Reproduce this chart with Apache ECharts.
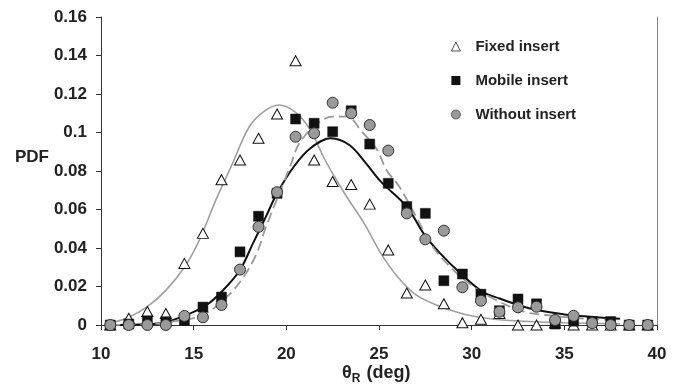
<!DOCTYPE html>
<html>
<head>
<meta charset="utf-8">
<script src="https://cdn.jsdelivr.net/npm/echarts@6/dist/echarts.min.js"></script>
<style>html,body{margin:0;padding:0;background:#fff;overflow:hidden}#c{width:690px;height:386px}</style>
</head>
<body>
<div id="c"></div>
<script>
// Bin centres (deg)
const xBins = [10.5, 11.5, 12.5, 13.5, 14.5, 15.5, 16.5, 17.5, 18.5, 19.5, 20.5, 21.5, 22.5, 23.5, 24.5, 25.5, 26.5, 27.5, 28.5, 29.5, 30.5, 31.5, 32.5, 33.5, 34.5, 35.5, 36.5, 37.5, 38.5, 39.5];
// Measured PDFs
const fixedPdf   = [0, 0.0035, 0.007, 0.006, 0.032, 0.0476, 0.0755, 0.0857, 0.097, 0.1096, 0.1373, 0.0857, 0.0745, 0.073, 0.0628, 0.039, 0.0166, 0.0208, 0.011, 0.0012, 0.003, 0.006, 0, 0, 0.001, 0, 0, 0, 0, 0];
const mobilePdf  = [0, 0.0005, 0.0022, 0.0017, 0.0024, 0.0093, 0.0145, 0.038, 0.0565, 0.0684, 0.107, 0.1048, 0.1004, 0.1113, 0.094, 0.0736, 0.0615, 0.058, 0.023, 0.0265, 0.016, 0.0074, 0.0135, 0.011, 0.0005, 0.002, 0.0017, 0.0018, 0, 0];
const withoutPdf = [0, 0, 0, 0, 0.0047, 0.004, 0.0104, 0.0288, 0.051, 0.069, 0.0978, 0.0996, 0.1155, 0.110, 0.1039, 0.0906, 0.058, 0.0445, 0.049, 0.0196, 0.0126, 0.0069, 0.0092, 0.0095, 0.0026, 0.0048, 0.001, 0, 0, 0];
// Fitted curves
const fixedFitX = [10.5, 11.5, 12.5, 13.5, 14.5, 15.3, 16.2, 17.1, 18.0, 18.8, 19.6, 20.5, 21.3, 22.0, 22.6, 23.3, 24.2, 25.1, 26.0, 27.0, 28.1, 29.4, 30.8, 32.3, 35.0, 38.0];
const fixedFitY = [0.0009, 0.004, 0.0095, 0.018, 0.030, 0.044, 0.065, 0.084, 0.103, 0.111, 0.1143, 0.1105, 0.1013, 0.0874, 0.077, 0.066, 0.0528, 0.0372, 0.0251, 0.0156, 0.0104, 0.0061, 0.0035, 0.0022, 0.0012, 0.0006];
const mobileFitX = [10.5, 12.0, 13.2, 14.6, 15.7, 16.6, 17.5, 18.2, 18.9, 19.5, 20.4, 21.3, 22.4, 23.4, 24.3, 25.1, 26.5, 27.4, 28.3, 29.4, 30.6, 31.5, 33.1, 35.0, 36.4, 38.0];
const mobileFitY = [0, 0.0003, 0.0009, 0.0052, 0.0104, 0.0182, 0.0286, 0.0424, 0.0563, 0.0684, 0.0822, 0.0918, 0.097, 0.0935, 0.084, 0.0745, 0.0615, 0.0476, 0.0372, 0.0268, 0.0172, 0.0138, 0.0087, 0.0055, 0.0043, 0.0033];
const withoutFitX = [10.5, 12.5, 14.0, 15.5, 16.8, 17.7, 18.4, 18.9, 20.2, 20.7, 21.7, 22.5, 23.3, 24.0, 24.9, 25.4, 26.1, 27.0, 27.9, 29.0, 30.1, 31.3, 32.8, 34.0, 35.8, 37.7];
const withoutFitY = [0, 0.0005, 0.002, 0.0052, 0.0147, 0.0251, 0.0372, 0.051, 0.0822, 0.0944, 0.1048, 0.1082, 0.1082, 0.1013, 0.0909, 0.0805, 0.0718, 0.0563, 0.0407, 0.0286, 0.0199, 0.013, 0.0069, 0.0052, 0.0035, 0.0026];
const seriesNames = ['Fixed insert', 'Mobile insert', 'Without insert'];

const zip = (a, b) => a.map((v, i) => [v, b[i]]);
const FONT = '"Liberation Sans", Arial, sans-serif';
const TXT = '#222';

const chart = echarts.init(document.getElementById('c'), null, {renderer: 'canvas'});
chart.setOption({
  animation: false,
  backgroundColor: '#fff',
  grid: {left: 101, right: 33, top: 17, bottom: 61, containLabel: false},
  legend: {
    orient: 'vertical', left: 446, top: 34, itemGap: 19,
    itemWidth: 9, itemHeight: 9,
    data: [
      {name: seriesNames[0], itemStyle: {color: '#fff', borderColor: '#222', borderWidth: 0.8}},
      {name: seriesNames[1], itemStyle: {color: '#111', borderWidth: 0}},
      {name: seriesNames[2], itemStyle: {color: '#9a9a9a', borderColor: '#444', borderWidth: 0.8}}
    ],
    textStyle: {fontFamily: FONT, fontWeight: 'bold', fontSize: 15, color: TXT, padding: [0, 0, 0, 10]}
  },
  graphic: [
    {type: 'text', left: 15, top: 149, silent: true,
      style: {text: 'PDF', font: 'bold 17px ' + FONT, fill: TXT}},
    {type: 'text', left: 342, top: 364, silent: true,
      style: {
        text: '{t|θ}{s|R}{t| (deg)}',
        rich: {
          t: {font: 'bold 18px ' + FONT, fill: TXT, verticalAlign: 'top'},
          s: {font: 'bold 12px ' + FONT, fill: TXT, verticalAlign: 'bottom', padding: [9, 1, 0, 0]}
        }
      }}
  ],
  xAxis: [{
    type: 'value', min: 10, max: 40, interval: 5,
    axisLine: {onZero: false, lineStyle: {color: '#333', width: 1}},
    axisTick: {show: true, inside: false, length: 5, lineStyle: {color: '#333'}},
    splitLine: {show: false},
    axisLabel: {margin: 21, fontFamily: FONT, fontWeight: 'bold', fontSize: 17, color: TXT}
  }, {
    type: 'value', position: 'top', min: 10, max: 40,
    axisLine: {show: true, lineStyle: {color: '#333', width: 1}},
    axisTick: {show: false}, axisLabel: {show: false}, splitLine: {show: false}
  }],
  yAxis: [{
    type: 'value', min: 0, max: 0.16, interval: 0.02,
    axisLine: {show: true, onZero: false, lineStyle: {color: '#333', width: 1}},
    axisTick: {show: true, inside: false, length: 5, lineStyle: {color: '#333'}},
    splitLine: {show: false},
    axisLabel: {margin: 14, fontFamily: FONT, fontWeight: 'bold', fontSize: 17, color: TXT,
      formatter: v => String(Math.round(v * 100) / 100)}
  }, {
    type: 'value', position: 'right', min: 0, max: 0.16,
    axisLine: {show: true, lineStyle: {color: '#888', width: 1}},
    axisTick: {show: false}, axisLabel: {show: false}, splitLine: {show: false}
  }],
  series: [
    {name: 'fitFixed', type: 'line', data: zip(fixedFitX, fixedFitY), smooth: 0.35, showSymbol: false, symbol: 'none',
      lineStyle: {color: '#a0a0a0', width: 1.6}, z: 1, silent: true},
    {name: 'fitMobile', type: 'line', data: zip(mobileFitX, mobileFitY), smooth: 0.35, showSymbol: false, symbol: 'none',
      lineStyle: {color: '#111', width: 2}, z: 1, silent: true},
    {name: 'fitWithout', type: 'line', data: zip(withoutFitX, withoutFitY), smooth: 0.35, showSymbol: false, symbol: 'none',
      lineStyle: {color: '#999', width: 1.8, type: [10, 5]}, z: 1, silent: true},
    {name: seriesNames[0], type: 'scatter', data: zip(xBins, fixedPdf), symbol: 'triangle', symbolSize: [11, 10],
      itemStyle: {color: '#fff', borderColor: '#111', borderWidth: 1, opacity: 1}, z: 3},
    {name: seriesNames[1], type: 'scatter', data: zip(xBins, mobilePdf), symbol: 'rect', symbolSize: 10,
      itemStyle: {color: '#111', borderColor: '#111', borderWidth: 0.5, opacity: 1}, z: 4},
    {name: seriesNames[2], type: 'scatter', data: zip(xBins, withoutPdf), symbol: 'circle', symbolSize: 11,
      itemStyle: {color: '#9a9a9a', borderColor: '#333', borderWidth: 1, opacity: 1}, z: 5}
  ]
});
</script>
</body>
</html>
